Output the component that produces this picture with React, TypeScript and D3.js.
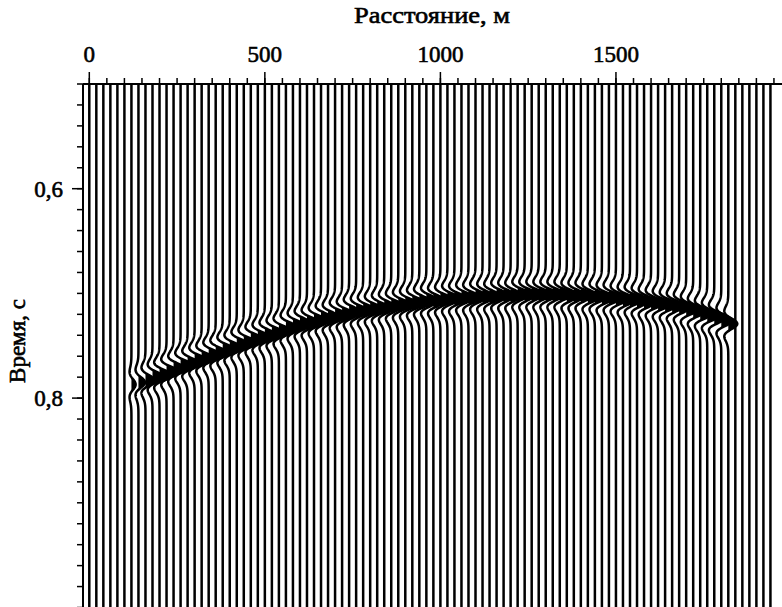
import React, { useMemo } from "react";
import * as d3 from "d3";

const W = 782;
const H = 607;

const xTitle = "Расстояние, м";
const yTitle = "Время, с";
const xMajorTicks = [0, 500, 1000, 1500];
const xMajorLabels = ["0", "500", "1000", "1500"];
const yMajorTicks = [0.6, 0.8];
const yMajorLabels = ["0,6", "0,8"];

const traceStep = 20; // m
const traceCount = 98; // traces at 0 .. 1940 m
const eventStart = 120; // m, first trace with the reflection

// arrival time (s) of the reflection peak on each trace from 120 m, every 20 m
const eventTimes = [
  0.787, 0.785, 0.783, 0.780, 0.778, 0.775, 0.772, 0.769, 0.767, 0.764,
  0.762, 0.759, 0.757, 0.754, 0.752, 0.749, 0.747, 0.744, 0.742, 0.740,
  0.738, 0.736, 0.733, 0.731, 0.729, 0.728, 0.726, 0.724, 0.723, 0.721,
  0.720, 0.718, 0.717, 0.716, 0.715, 0.714, 0.713, 0.712, 0.711, 0.710,
  0.709, 0.708, 0.707, 0.707, 0.706, 0.705, 0.705, 0.704, 0.704, 0.703,
  0.703, 0.703, 0.702, 0.702, 0.702, 0.701, 0.701, 0.701, 0.701, 0.701,
  0.701, 0.701, 0.702, 0.702, 0.702, 0.703, 0.703, 0.704, 0.704, 0.705,
  0.706, 0.706, 0.707, 0.708, 0.709, 0.710, 0.711, 0.712, 0.713, 0.715,
  0.717, 0.719, 0.721, 0.723, 0.726, 0.729,
];
// relative amplitude of the reflection on each of those traces
const eventAmps = [
  0.35, 0.55, 0.75, 0.9, 1, 1, 1, 1, 1, 1,
  1, 1, 1, 1, 1, 1, 1, 1, 1, 1,
  1, 1, 1, 1, 1, 1, 1, 1, 1, 1,
  1, 1, 1, 1, 1, 1, 1, 1, 1, 1,
  1, 1, 1, 1, 1, 1, 1, 1, 1, 1,
  1, 1, 1, 1, 1, 1, 1, 1, 1, 1,
  1, 1, 1, 1, 1, 1, 1, 1, 1, 1,
  1, 1, 1, 1, 1, 1, 1, 1, 1, 1,
  1, 1, 1, 1, 0.9, 0.75,
];

const freq = 32; // Hz, wavelet dominant frequency
const gain = 12; // px for unit amplitude

function ricker(tau: number) {
  const a = (Math.PI * freq * tau) ** 2;
  return (1 - 2 * a) * Math.exp(-a);
}

export default function App() {
  const x = d3.scaleLinear().domain([0, 2000]).range([89.3, 791.5]);
  const y = d3.scaleLinear().domain([0.5, 1.0]).range([84, 607.5]);
  const left = 83;
  const top = y(0.5);

  const traces = useMemo(() => {
    const out: { line: string; fill: string | null }[] = [];
    const times = d3.range(0.5, 1.0005, 0.0005);
    for (let i = 0; i < traceCount; i++) {
      const d = i * traceStep;
      const base = x(d);
      const k = Math.round((d - eventStart) / traceStep);
      const has = k >= 0 && k < eventTimes.length;
      if (!has) {
        out.push({ line: `M${base},${top}V${H + 2}`, fill: null });
        continue;
      }
      const t0 = eventTimes[k];
      const amp = eventAmps[k];
      const pts = times.map((t) => ({ t, dx: gain * amp * ricker(t - t0) }));
      const line = d3
        .line<{ t: number; dx: number }>()
        .x((p) => base + p.dx)
        .y((p) => y(p.t))(pts) as string;
      const fill = d3
        .area<{ t: number; dx: number }>()
        .y((p) => y(p.t))
        .x0(base)
        .x1((p) => base + Math.max(0, p.dx))(pts) as string;
      out.push({ line, fill });
    }
    return out;
  }, []);

  const xMinor = d3.range(0, 2000, 50);
  const yMinor = d3.range(0.5, 1.0001, 0.02);
  const font = "'Liberation Serif', 'Times New Roman', serif";

  return (
    <svg
      width={W}
      height={H}
      viewBox={`0 0 ${W} ${H}`}
      style={{ position: "fixed", left: 0, top: 0, background: "#fff" }}
    >
      <defs>
        <clipPath id="plot">
          <rect x={left} y={top} width={W - left} height={H - top} />
        </clipPath>
      </defs>
      <rect x={0} y={0} width={W} height={H} fill="#fff" />
      <g clipPath="url(#plot)">
        {traces.map((tr, i) =>
          tr.fill ? <path key={"f" + i} d={tr.fill} fill="#000" /> : null
        )}
        {traces.map((tr, i) => (
          <path key={"l" + i} d={tr.line} fill="none" stroke="#000" strokeWidth={2.5} />
        ))}
      </g>
      {/* top axis */}
      <line x1={left} x2={W} y1={top} y2={top} stroke="#000" strokeWidth={2} />
      {xMinor.map((v) => (
        <line key={"xm" + v} x1={x(v)} x2={x(v)} y1={top} y2={top - 6} stroke="#000" strokeWidth={1.5} />
      ))}
      {xMajorTicks.map((v, i) => (
        <g key={"xM" + v}>
          <line x1={x(v)} x2={x(v)} y1={top} y2={top - 12} stroke="#000" strokeWidth={1.5} />
          <text x={x(v)} y={62} textAnchor="middle" fontFamily={font} fontSize={23} fill="#000" stroke="#000" strokeWidth={0.6}>
            {xMajorLabels[i]}
          </text>
        </g>
      ))}
      <text x={432} y={23} textAnchor="middle" fontFamily={font} fontSize={23} textLength={156} lengthAdjust="spacingAndGlyphs" fill="#000" stroke="#000" strokeWidth={0.6}>
        {xTitle}
      </text>
      {/* left axis */}
      <line x1={left} x2={left} y1={top} y2={H} stroke="#000" strokeWidth={2} />
      {yMinor.map((v) => (
        <line key={"ym" + v} x1={left} x2={left - 6} y1={y(v)} y2={y(v)} stroke="#000" strokeWidth={1.5} />
      ))}
      {yMajorTicks.map((v, i) => (
        <g key={"yM" + v}>
          <line x1={left} x2={left - 11} y1={y(v)} y2={y(v)} stroke="#000" strokeWidth={1.5} />
          <text x={63} y={y(v) + 8} textAnchor="end" fontFamily={font} fontSize={23} fill="#000" stroke="#000" strokeWidth={0.6}>
            {yMajorLabels[i]}
          </text>
        </g>
      ))}
      <text
        transform={`translate(25,${341}) rotate(-90)`}
        textAnchor="middle"
        fontFamily={font}
        fontSize={23}
        fill="#000"
        stroke="#000"
        strokeWidth={0.6}
      >
        {yTitle}
      </text>
    </svg>
  );
}
